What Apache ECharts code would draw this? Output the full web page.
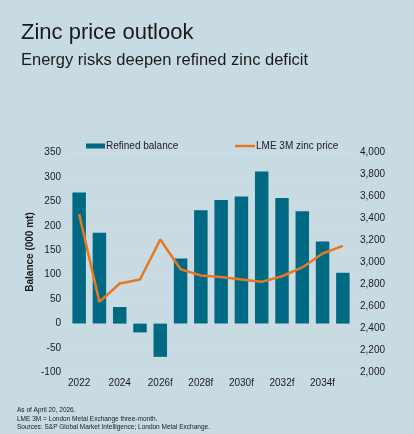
<!DOCTYPE html>
<html>
<head>
<meta charset="utf-8">
<script src="https://cdn.jsdelivr.net/npm/echarts@6/dist/echarts.min.js"></script>
<style>
  html, body { margin: 0; padding: 0; background: #c9dbe2; }
  #chart { width: 414px; height: 434px; }
</style>
</head>
<body>
<div id="chart"></div>
<script>
// years on the category axis
const years = ['2022', '2023', '2024', '2025', '2026f', '2027f', '2028f', '2029f',
  '2030f', '2031f', '2032f', '2033f', '2034f', '2035f'];
// refined balance, 000 mt
const balance = [268, 186, 34, -18, -68, 133, 232, 253, 260, 311, 257, 230, 168, 104];
// LME 3M zinc price, US$/t
const price = [3440, 2642, 2809, 2845, 3209, 2939, 2882, 2869, 2845, 2824, 2875, 2955, 3082, 3151];

const notes = [
  'As of April 20, 2026.',
  'LME 3M = London Metal Exchange three-month.',
  'Sources: S&P Global Market Intelligence; London Metal Exchange.'
];

const font = 'Liberation Sans, Arial, sans-serif';
const textCol = '#1a1a1a';

const chart = echarts.init(document.getElementById('chart'));

const option = {
  backgroundColor: '#c9dbe2',
  animation: false,
  textStyle: { fontFamily: font },
  title: [
    {
      text: 'Zinc price outlook',
      left: 16, top: 17,
      textStyle: { fontSize: 22, fontWeight: 'normal', color: textCol, fontFamily: font }
    },
    {
      text: 'Energy risks deepen refined zinc deficit',
      left: 16, top: 47,
      textStyle: { fontSize: 16.5, fontWeight: 'normal', color: textCol, fontFamily: font }
    }
  ],
  legend: [
    {
      data: [{ name: 'Refined balance', icon: 'rect' }],
      left: 81, top: 136,
      itemWidth: 19, itemHeight: 5,
      textStyle: { fontSize: 10, color: textCol, padding: [0, 0, 0, -4] }
    },
    {
      data: [{ name: 'LME 3M zinc price', icon: 'rect' }],
      left: 230, top: 136,
      itemWidth: 20, itemHeight: 2.5,
      textStyle: { fontSize: 10, color: textCol, padding: [0, 0, 0, -4] }
    }
  ],
  grid: { left: 69, right: 61, top: 152.5, bottom: 61.5 },
  xAxis: {
    type: 'category',
    data: years,
    axisLine: { show: false },
    axisTick: { show: false },
    axisLabel: { interval: 1, fontSize: 10, color: textCol, margin: 6 }
  },
  yAxis: [
    {
      type: 'value',
      min: -100, max: 350, interval: 50,
      axisLine: { show: false },
      axisTick: { show: false },
      axisLabel: { fontSize: 10, color: textCol, margin: 8 },
      splitLine: { lineStyle: { color: '#cedfe6', width: 1 } }
    },
    {
      type: 'value',
      min: 2000, max: 4000, interval: 200,
      axisLine: { show: false },
      axisTick: { show: false },
      splitLine: { show: false },
      axisLabel: {
        fontSize: 10, color: textCol, margin: 7,
        formatter: v => v.toLocaleString('en-US')
      }
    }
  ],
  graphic: [
    {
      type: 'text',
      x: 30, y: 252,
      rotation: Math.PI / 2,
      style: {
        text: 'Balance (000 mt)',
        font: 'bold 10px ' + font,
        fill: textCol,
        align: 'center',
        verticalAlign: 'middle'
      }
    },
    {
      type: 'text',
      left: 17, top: 406,
      style: {
        text: notes.join('\n'),
        font: '6.5px ' + font,
        lineHeight: 8.5,
        fill: textCol
      }
    }
  ],
  series: [
    {
      name: 'Refined balance',
      type: 'bar',
      data: balance,
      barWidth: 13.5,
      itemStyle: { color: '#006a84' }
    },
    {
      name: 'LME 3M zinc price',
      type: 'line',
      yAxisIndex: 1,
      data: price,
      symbol: 'none',
      lineStyle: { color: '#e87722', width: 2.5 },
      itemStyle: { color: '#e87722' }
    }
  ]
};

chart.setOption(option);
</script>
</body>
</html>
